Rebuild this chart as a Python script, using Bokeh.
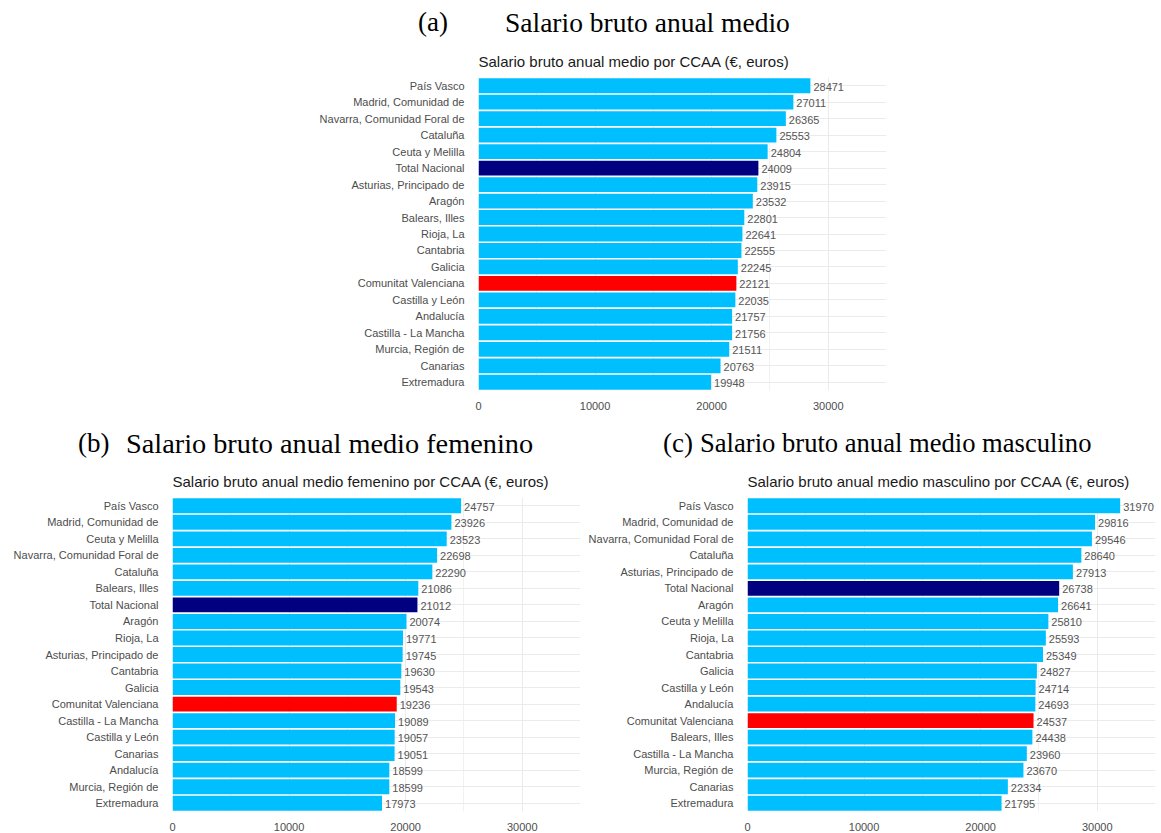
from bokeh.plotting import figure
from bokeh.layouts import column, row
from bokeh.models import (ColumnDataSource, FactorRange, Range1d, FixedTicker,
                          NumeralTickFormatter, Div)
from bokeh.core.properties import value
from bokeh.embed import file_html
from bokeh.resources import INLINE

# --- data: gross annual salary by autonomous community (euros) ---
regions_total = ["País Vasco", "Madrid, Comunidad de", "Navarra, Comunidad Foral de",
                 "Cataluña", "Ceuta y Melilla", "Total Nacional", "Asturias, Principado de",
                 "Aragón", "Balears, Illes", "Rioja, La", "Cantabria", "Galicia",
                 "Comunitat Valenciana", "Castilla y León", "Andalucía",
                 "Castilla - La Mancha", "Murcia, Región de", "Canarias", "Extremadura"]
salary_total = [28471, 27011, 26365, 25553, 24804, 24009, 23915, 23532, 22801, 22641,
                22555, 22245, 22121, 22035, 21757, 21756, 21511, 20763, 19948]

regions_women = ["País Vasco", "Madrid, Comunidad de", "Ceuta y Melilla",
                 "Navarra, Comunidad Foral de", "Cataluña", "Balears, Illes",
                 "Total Nacional", "Aragón", "Rioja, La", "Asturias, Principado de",
                 "Cantabria", "Galicia", "Comunitat Valenciana", "Castilla - La Mancha",
                 "Castilla y León", "Canarias", "Andalucía", "Murcia, Región de",
                 "Extremadura"]
salary_women = [24757, 23926, 23523, 22698, 22290, 21086, 21012, 20074, 19771, 19745,
                19630, 19543, 19236, 19089, 19057, 19051, 18599, 18599, 17973]

regions_men = ["País Vasco", "Madrid, Comunidad de", "Navarra, Comunidad Foral de",
               "Cataluña", "Asturias, Principado de", "Total Nacional", "Aragón",
               "Ceuta y Melilla", "Rioja, La", "Cantabria", "Galicia", "Castilla y León",
               "Andalucía", "Comunitat Valenciana", "Balears, Illes",
               "Castilla - La Mancha", "Murcia, Región de", "Canarias", "Extremadura"]
salary_men = [31970, 29816, 29546, 28640, 27913, 26738, 26641, 25810, 25593, 25349,
              24827, 24714, 24693, 24537, 24438, 23960, 23670, 22334, 21795]

x_ticks = [0, 10000, 20000, 30000]
x_minor = [5000, 15000, 25000, 35000]
x_max = 35000

BAR = "#00BFFF"
HIGHLIGHT = {"Total Nacional": "#000080", "Comunitat Valenciana": "#FF0000"}

SANS = "Liberation Sans"
SERIF = "Liberation Serif"
AXIS_TXT = "#4D4D4D"
GRID = "#EBEBEB"


def bar_panel(names, values, title, width, height, left, right, top, bottom):
    src = ColumnDataSource(dict(
        region=names,
        salary=values,
        label=[str(v) for v in values],
        color=[HIGHLIGHT.get(n, BAR) for n in names],
    ))
    p = figure(width=width, height=height,
               y_range=FactorRange(*reversed(names)),
               x_range=Range1d(0, x_max),
               output_backend="svg", toolbar_location=None,
               min_border_left=left, min_border_right=right,
               min_border_top=top, min_border_bottom=bottom)
    p.hbar(y="region", left=0, right="salary", height=0.9, fill_color="color",
           line_color=None, source=src)
    p.text(x="salary", y="region", text="label", x_offset=3, y_offset=1,
           text_align="left", text_baseline="middle",
           text_font=value(SANS), text_font_size=value("11px"),
           text_color="#555555", source=src)

    p.title.text = title
    p.title.align = "left"
    p.title.text_font = SANS
    p.title.text_font_size = "15px"
    p.title.text_font_style = "normal"
    p.title.text_color = "#1A1A1A"
    p.title.standoff = 16

    p.outline_line_color = None
    p.background_fill_color = "white"
    p.border_fill_color = "white"

    p.xaxis.ticker = FixedTicker(ticks=x_ticks, minor_ticks=x_minor)
    p.xaxis.formatter = NumeralTickFormatter(format="0")
    for ax in (p.xaxis, p.yaxis):
        ax.axis_line_color = None
        ax.major_tick_line_color = None
        ax.minor_tick_line_color = None
        ax.major_label_text_font = SANS
        ax.major_label_text_color = AXIS_TXT
    p.xaxis.major_label_standoff = 5
    p.yaxis.major_label_standoff = 8
    p.xaxis.major_label_text_font_size = "11px"
    p.yaxis.major_label_text_font_size = "11px"

    p.xgrid.grid_line_color = GRID
    p.xgrid.minor_grid_line_color = GRID
    p.xgrid.minor_grid_line_width = 0.7
    p.ygrid.grid_line_color = GRID
    return p


def heading(parts, height):
    spans = "".join(
        f'<span style="position:absolute;left:{x}px;top:{y}px;'
        f"font-family:'{SERIF}';font-size:{fs}px;line-height:{fs}px;"
        f'white-space:nowrap;color:#000;">{t}</span>'
        for x, y, fs, t in parts)
    html = (f'<div style="position:relative;width:1161px;height:{height}px;">'
            f'{spans}</div>')
    return Div(text=html, width=1161, height=height, margin=0)


head_a = heading([(418, 9, 27, "(a)"),
                  (505, 9, 27.5, "Salario bruto anual medio")], 40)
fig_a = bar_panel(regions_total, salary_total,
                  "Salario bruto anual medio por CCAA (€, euros)",
                  1161, 380, 478, 275, 37, 30)

head_bc = heading([(78, 10, 27, "(b)"),
                   (126, 10, 28.3, "Salario bruto anual medio femenino"),
                   (663, 10, 27, "(c)"),
                   (700, 10, 26.6, "Salario bruto anual medio masculino")], 42)
fig_b = bar_panel(regions_women, salary_women,
                  "Salario bruto anual medio femenino por CCAA (€, euros)",
                  580, 371, 172, 0, 35, 22)
fig_c = bar_panel(regions_men, salary_men,
                  "Salario bruto anual medio masculino por CCAA (€, euros)",
                  581, 371, 167, 6, 35, 22)

layout = column(head_a, fig_a, head_bc, row(fig_b, fig_c, spacing=0), spacing=0)

open("out.html", "w").write(file_html(layout, INLINE))
